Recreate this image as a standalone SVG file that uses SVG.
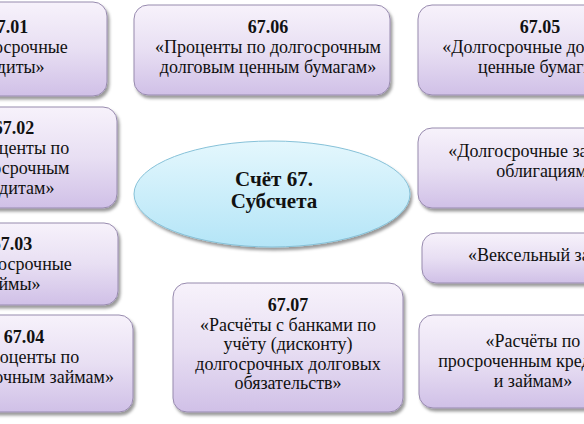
<svg xmlns="http://www.w3.org/2000/svg" width="584" height="424" viewBox="0 0 584 424">
  <defs>
    <linearGradient id="boxGrad" x1="0" y1="0" x2="0" y2="1">
      <stop offset="0" stop-color="#f7f2fb"/>
      <stop offset="0.5" stop-color="#e8dff3"/>
      <stop offset="1" stop-color="#d0c0e7"/>
    </linearGradient>
    <linearGradient id="ellGrad" x1="0" y1="0" x2="0" y2="1">
      <stop offset="0" stop-color="#e4f7fd"/>
      <stop offset="1" stop-color="#b4e5f7"/>
    </linearGradient>
    <filter id="shadow" x="-10%" y="-10%" width="125%" height="130%">
      <feDropShadow dx="2" dy="3" stdDeviation="1.8" flood-color="#000" flood-opacity="0.4"/>
    </filter>
  </defs>
  <style>
    .box { fill: url(#boxGrad); stroke: #978aae; stroke-width: 1; filter: url(#shadow); }
    .ell { fill: url(#ellGrad); stroke: #86c1d8; stroke-width: 1; filter: url(#shadow); }
    text { font-family: "Liberation Serif", Tinos, "Times New Roman", "DejaVu Serif", serif; fill: #111; text-anchor: middle; }
    .t { font-size: 18px; }
    .n { font-weight: bold; }
    .c { font-size: 21px; font-weight: bold; }
  </style>
  <rect width="584" height="424" fill="#ffffff"/>
  <g id="connectors"></g>

  <g id="n6701">
    <rect class="box" x="-80" y="2" width="187" height="94" rx="14"/>
    <text class="t n" x="8" y="33">67.01</text>
    <text class="t" x="8" y="53">«Долгосрочные</text>
    <text class="t" x="8" y="73">кредиты»</text>
  </g>

  <g id="n6706">
    <rect class="box" x="134" y="5" width="256" height="90" rx="14"/>
    <text class="t n" x="268" y="33">67.06</text>
    <text class="t" x="268" y="53">«Проценты по долгосрочным</text>
    <text class="t" x="268" y="73">долговым ценным бумагам»</text>
  </g>

  <g id="n6705">
    <rect class="box" x="418" y="5" width="256" height="90" rx="14"/>
    <text class="t n" x="540" y="33">67.05</text>
    <text class="t" x="540" y="53">«Долгосрочные долговые</text>
    <text class="t" x="540" y="73">ценные бумаги»</text>
  </g>

  <g id="n6702">
    <rect class="box" x="-90" y="107" width="207" height="101" rx="14"/>
    <text class="t n" x="14" y="134">67.02</text>
    <text class="t" x="14" y="154">«Проценты по</text>
    <text class="t" x="14" y="174">долгосрочным</text>
    <text class="t" x="14" y="194">кредитам»</text>
  </g>

  <g id="center">
    <ellipse class="ell" cx="272" cy="194" rx="138" ry="53"/>
    <text class="c" x="274" y="186">Счёт 67.</text>
    <text class="c" x="274" y="208">Субсчета</text>
  </g>

  <g id="n6708">
    <rect class="box" x="418" y="128" width="256" height="80" rx="14"/>
    <text class="t" x="546" y="157">«Долгосрочные займы по</text>
    <text class="t" x="546" y="177">облигациям»</text>
  </g>

  <g id="n6709">
    <rect class="box" x="422" y="233" width="250" height="50" rx="14"/>
    <text class="t" x="543" y="261">«Вексельный заём»</text>
  </g>

  <g id="n6703">
    <rect class="box" x="-80" y="223" width="198" height="82" rx="14"/>
    <text class="t n" x="12" y="250">67.03</text>
    <text class="t" x="12" y="270">«Долгосрочные</text>
    <text class="t" x="12" y="290">займы»</text>
  </g>

  <g id="n6704">
    <rect class="box" x="-70" y="315" width="203" height="97" rx="14"/>
    <text class="t n" x="24" y="343">67.04</text>
    <text class="t" x="24" y="363">«Проценты по</text>
    <text class="t" x="24" y="383">долгосрочным займам»</text>
  </g>

  <g id="n6707">
    <rect class="box" x="173" y="283" width="230" height="129" rx="14"/>
    <text class="t n" x="288" y="311">67.07</text>
    <text class="t" x="288" y="331">«Расчёты с банками по</text>
    <text class="t" x="288" y="350">учёту (дисконту)</text>
    <text class="t" x="288" y="370">долгосрочных долговых</text>
    <text class="t" x="288" y="389">обязательств»</text>
  </g>

  <g id="n6710">
    <rect class="box" x="419" y="315" width="256" height="93" rx="14"/>
    <text class="t" x="533" y="347">«Расчёты по</text>
    <text class="t" x="533" y="367">просроченным кредитам</text>
    <text class="t" x="533" y="387">и займам»</text>
  </g>
</svg>
